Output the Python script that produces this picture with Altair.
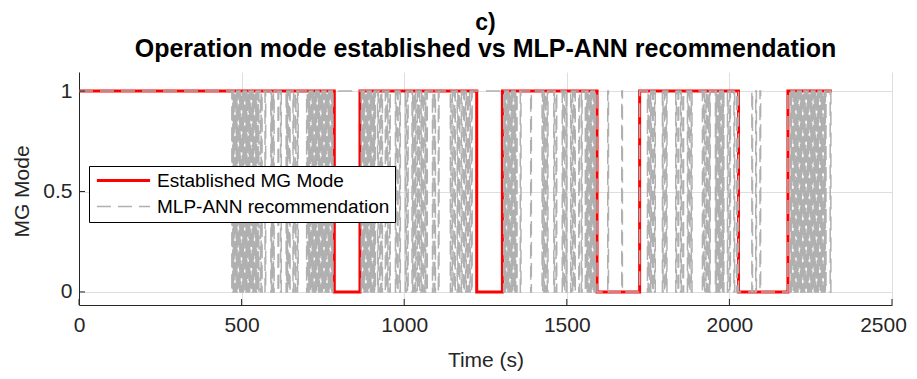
import altair as alt
import pandas as pd

# ---------------- data ----------------
SERIES = ["Established MG Mode", "MLP-ANN recommendation"]

# Established mode: step series (switch times in s, value after switch)
red_t = [0, 785, 864, 1223, 1302, 1593, 1724, 2028, 2180, 2315]
red_v = [1, 0, 1, 0, 1, 0, 1, 0, 1, 1]

# MLP-ANN recommendation: short drops to 0 starting at these times (s)
gray_dips = [
    470, 473, 477, 481, 484, 488, 492, 495, 499, 503, 507, 510, 514, 518, 521,
    525, 529, 533, 536, 540, 544, 548, 551,
    558, 561, 572, 590, 594, 598, 612, 620, 637, 641, 647, 658, 665, 672,
    700, 704, 707, 711, 715, 719, 722, 726, 730, 734, 737, 741, 745, 749, 752,
    756, 760, 764, 767, 771, 775, 779,
    868, 872, 875, 879, 883, 887, 890, 894, 898, 902, 906, 909,
    918, 925, 931, 942, 948, 955, 973, 979, 986, 1004, 1010,
    1024, 1029, 1034, 1040, 1046, 1052, 1058, 1064, 1069, 1087, 1094, 1105,
    1142, 1148, 1155, 1163, 1169, 1176, 1183, 1189, 1195, 1201, 1207,
    1306, 1310, 1313, 1317, 1321, 1325, 1329, 1333, 1337, 1341, 1345,
    1357, 1389, 1424, 1429, 1434, 1440, 1460, 1467, 1486, 1492, 1498,
    1512, 1518, 1524, 1537, 1545,
    1557, 1561, 1565, 1569, 1573, 1577, 1581, 1585,
    1748, 1753, 1758, 1764, 1770, 1794, 1800, 1806, 1835, 1842, 1850, 1857,
    1871, 1877, 1883, 1917, 1922, 1928, 1934, 1939,
    1957, 1961, 1965, 1969, 1973, 1977, 1981, 1994, 2001, 2014, 2022,
    2188, 2192, 2196, 2200, 2204, 2207, 2211, 2215, 2219, 2223, 2227, 2231,
    2235, 2239, 2243, 2247, 2251, 2255, 2259, 2263, 2267, 2271, 2275, 2279,
    2283, 2287, 2291, 2295, 2310,
]
gray_dip_len = 2
# longer stretches where the recommendation is 0 (start, end)
gray_zero_spans = [
    (1593, 1626), (1628, 1669), (1671, 1724),
    (2028, 2069), (2071, 2081), (2083, 2094), (2096, 2180),
]
gray_end = 2315

x_ticks = [0, 500, 1000, 1500, 2000, 2500]
y_ticks = [0, 0.5, 1]

# ---------------- build tables ----------------
rows = []
for i, (t, v) in enumerate(zip(red_t, red_v)):
    rows.append({"t": t, "v": v, "series": SERIES[0], "idx": i})

spans = sorted([(t, t + gray_dip_len) for t in gray_dips] + gray_zero_spans)
g = [(0, 1)]
for s, e in spans:
    g.append((s, 0))
    g.append((e, 1))
g.append((gray_end, 1))
for i, (t, v) in enumerate(g):
    rows.append({"t": t, "v": v, "series": SERIES[1], "idx": i})
df = pd.DataFrame(rows)

W, H = 813, 233
FONT = "Liberation Sans"

xscale = alt.Scale(domain=[0, 2500], nice=False, zero=False)
yscale = alt.Scale(domain=[-0.065, 1.095], nice=False, zero=False)

leg = alt.Legend(
    title=None, orient="none", legendX=10, legendY=94,
    fillColor="white", strokeColor="black", padding=5,
    symbolType="M-3.8,0H3.8", symbolSize=196, symbolOffset=20,
    labelFont=FONT, labelFontSize=19, labelColor="black",
    labelOffset=24, rowPadding=6, labelLimit=400,
)

lines = alt.Chart(df).mark_line(interpolate="step-after", clip=True).encode(
    x=alt.X("t:Q", scale=xscale,
            axis=alt.Axis(values=x_ticks, format="d", title="Time (s)",
                          titleX=W / 2, titleY=55, titleBaseline="middle",
                          labelPadding=9, labelFlush=False,
                          labelOffset=alt.condition("datum.value == 2500", alt.value(-9), alt.value(0)))),
    y=alt.Y("v:Q", scale=yscale,
            axis=alt.Axis(values=y_ticks, format="~g", title="MG Mode",
                          titleX=-57, titleY=119, titleAngle=-90,
                          titleAlign="center", titleBaseline="middle",
                          labelPadding=7, labelFlush=False)),
    color=alt.Color("series:N", scale=alt.Scale(domain=SERIES, range=["#ff0000", "#b0b0b0"]), legend=leg),
    strokeDash=alt.StrokeDash("series:N", scale=alt.Scale(domain=SERIES, range=[[1, 0], [14, 7]]), legend=leg),
    strokeWidth=alt.StrokeWidth("series:N", scale=alt.Scale(domain=SERIES, range=[3, 1.5]), legend=leg),
    order=alt.Order("idx:Q"),
)

xt = alt.Chart(pd.DataFrame({"t": x_ticks})).mark_rule(color="#262626", strokeWidth=1).encode(
    x=alt.X("t:Q", scale=xscale), y=alt.value(H), y2=alt.value(H - 6))
yt = alt.Chart(pd.DataFrame({"v": y_ticks})).mark_rule(color="#262626", strokeWidth=1).encode(
    y=alt.Y("v:Q", scale=yscale), x=alt.value(0), x2=alt.value(6))

chart = alt.layer(lines, xt, yt).properties(
    width=W, height=H,
    title=alt.TitleParams(
        "c)", subtitle="Operation mode established vs MLP-ANN recommendation",
        fontSize=23, fontWeight="bold", font=FONT, color="black", anchor="middle",
        subtitleFontSize=25, subtitleFontWeight="bold", subtitleFont=FONT,
        subtitleColor="black", subtitlePadding=2, offset=10,
    ),
    autosize=alt.AutoSizeParams(type="none"),
    padding={"left": 71, "top": 64, "right": 16, "bottom": 70},
).configure_view(stroke=None).configure_axis(
    domainColor="#262626", domainWidth=1, ticks=False,
    grid=True, gridColor="#dedede", gridWidth=1,
    labelFont=FONT, labelFontSize=21, labelColor="#262626",
    titleFont=FONT, titleFontSize=21, titleFontWeight="normal", titleColor="#262626",
)

chart.save("out.html", embed_options={"renderer": "svg", "actions": False})
